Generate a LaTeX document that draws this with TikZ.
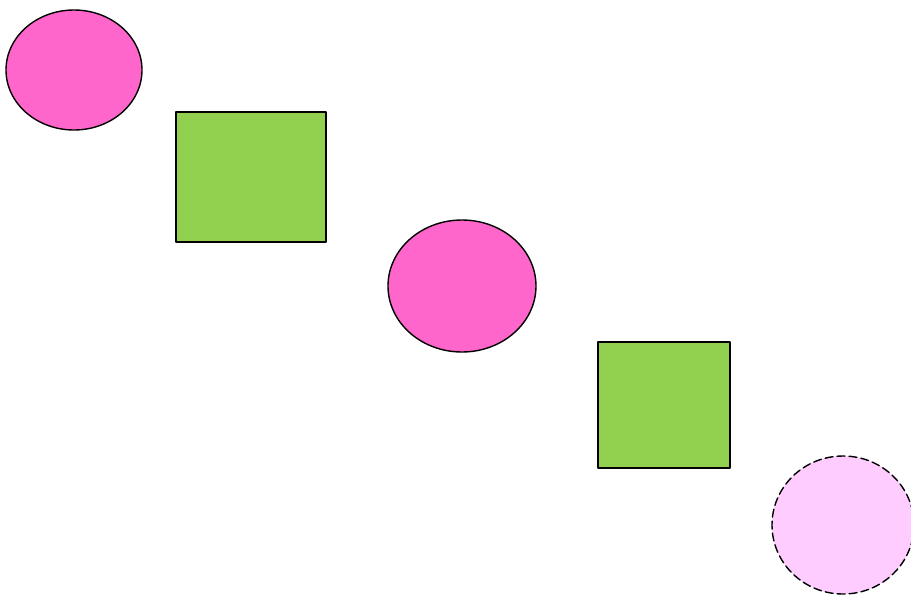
\documentclass[tikz,border=0pt]{standalone}
\usetikzlibrary{shapes.geometric}
\definecolor{hong}{HTML}{FF66CC}
\definecolor{la}{HTML}{92D050}
\definecolor{honglot}{HTML}{FFCCFF}
\begin{document}
\begin{tikzpicture}[x=1pt,y=-1pt,line join=round,line cap=round]
			\tikzset{oval/.style={ellipse,draw,line width=1.4pt,fill=hong,inner sep=0pt},
				hop/.style={rectangle,draw,line width=1.4pt,fill=la,inner sep=0pt}}
			%%Khung hình
			\def \xmax{911}
			\def \ymax{595}
			\useasboundingbox (0,0) rectangle (\xmax,\ymax);
			\clip (0,0) rectangle (\xmax,\ymax);
			%%Các hình
			\node[oval,minimum width=136pt,minimum height=120pt] (e1) at (74,70) {};
			\node[hop,minimum width=150pt,minimum height=130pt] (r1) at (251,177) {};
			\node[oval,minimum width=148pt,minimum height=132pt] (e2) at (462,286) {};
			\node[hop,minimum width=132pt,minimum height=126pt] (r2) at (664,405) {};
			\node[oval,fill=honglot,dash pattern=on 8pt off 4pt,minimum width=142pt,minimum height=138pt] (e3) at (843,525) {};
	\end{tikzpicture}
\end{document}
